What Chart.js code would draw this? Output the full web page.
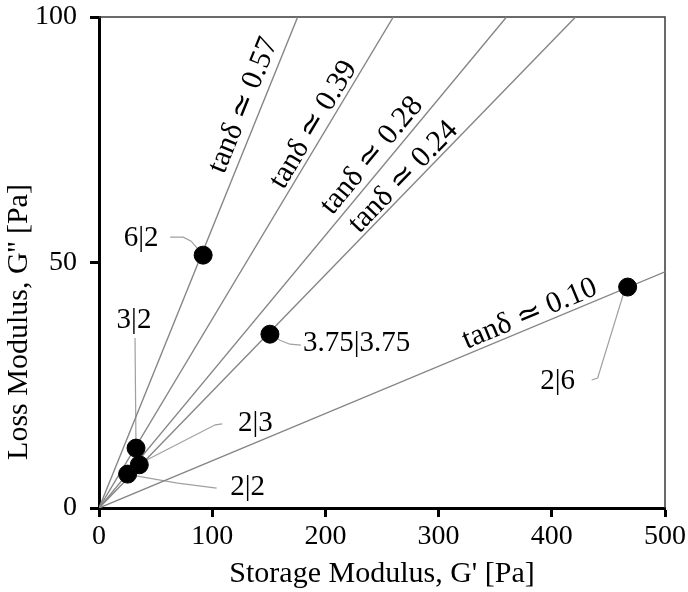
<!DOCTYPE html>
<html lang="en">
<head>
  <meta charset="UTF-8" />
  <title>Loss vs Storage Modulus</title>
  <script src="https://cdn.jsdelivr.net/npm/chart.js@4.4.1/dist/chart.umd.min.js"></script>
  <style>
    html, body { margin: 0; padding: 0; background: #fff; }
    #wrap { width: 688px; height: 592px; position: relative; }
  </style>
</head>
<body>
  <div id="wrap"><canvas id="modulusChart"></canvas></div>
  <script>
    // samples (G' and G'')
    const sampleNames = ["6|2", "3.75|3.75", "2|6", "3|2", "2|3", "2|2"];
    const storageModulus = [92, 151, 467, 32.7, 35.6, 25.3];
    const lossModulus = [51.5, 35.4, 45.0, 12.2, 8.8, 6.9];

    // tan delta guide lines, from origin to where they leave the plot
    const tanDeltaNames = ["tanδ ≃ 0.57", "tanδ ≃ 0.39", "tanδ ≃ 0.28", "tanδ ≃ 0.24", "tanδ ≃ 0.10"];
    const tanDeltaEndX = [175.5, 260, 360, 421, 500];
    const tanDeltaEndY = [100, 100, 100, 100, 48.1];

    const xTicks = [0, 100, 200, 300, 400, 500];
    const yTicks = [0, 50, 100];

    const serif = "'Liberation Serif', 'Times New Roman', serif";

    // where the rotated tan delta labels sit: fraction along the line, px off the line
    const tanLabelAt = [0.807, 0.767, 0.698, 0.657, 0.77];
    const tanLabelOff = [17, 13, 15, 12, 13];

    // sample label placement, px relative to the dot
    const sampleLabelPos = [
      { text: [-62, -17], align: "center", leader: [[-33, -18], [-20, -18], [-12, -14], [0, 0]] },
      { text: [33, 9], align: "left", leader: [[0, 0], [10, 6], [20, 10], [31, 11]] },
      { text: [-70, 94], align: "center", leader: [[-36, 93], [-30, 91], [-3, 3]] },
      { text: [-2, -128], align: "center", leader: [[-1, -110], [0, 0]] },
      { text: [116, -41], align: "center", leader: [[83, -41], [76, -40], [2, -2]] },
      { text: [120, 13], align: "center", leader: [[89, 14], [50, 9], [4, 1]] },
    ];

    const lineSets = tanDeltaNames.map((name, i) => ({
      type: "line",
      label: name,
      data: [{ x: 0, y: 0 }, { x: tanDeltaEndX[i], y: tanDeltaEndY[i] }],
      borderColor: "#858585",
      borderWidth: 1.4,
      pointRadius: 0,
      fill: false,
      order: 2,
    }));

    const pointSet = {
      type: "scatter",
      label: "samples",
      data: storageModulus.map((v, i) => ({ x: v, y: lossModulus[i] })),
      backgroundColor: "#000",
      borderColor: "#000",
      pointRadius: 9,
      order: 1,
    };

    const decorPlugin = {
      id: "decor",
      beforeDatasetsDraw(chart) {
        const ctx = chart.ctx;
        const a = chart.chartArea;
        ctx.save();
        // thin frame on top and right
        ctx.strokeStyle = "#3a3a3a";
        ctx.lineWidth = 1.5;
        ctx.beginPath();
        ctx.moveTo(a.left, a.top);
        ctx.lineTo(a.right, a.top);
        ctx.lineTo(a.right, a.bottom);
        ctx.stroke();
        // leaders from labels to dots
        const meta = chart.getDatasetMeta(chart.data.datasets.length - 1);
        ctx.strokeStyle = "#a0a0a0";
        ctx.lineWidth = 1.2;
        sampleLabelPos.forEach((p, i) => {
          const el = meta.data[i];
          ctx.beginPath();
          p.leader.forEach((q, k) => {
            if (k === 0) ctx.moveTo(el.x + q[0], el.y + q[1]);
            else ctx.lineTo(el.x + q[0], el.y + q[1]);
          });
          ctx.stroke();
        });
        ctx.restore();
      },
      afterDatasetsDraw(chart) {
        const ctx = chart.ctx;
        const xs = chart.scales.x, ys = chart.scales.y;
        ctx.save();
        ctx.fillStyle = "#000";
        // rotated tan delta labels
        ctx.font = "30px " + serif;
        ctx.textAlign = "center";
        ctx.textBaseline = "middle";
        tanDeltaNames.forEach((name, i) => {
          const x0 = xs.getPixelForValue(0), y0 = ys.getPixelForValue(0);
          const x1 = xs.getPixelForValue(tanDeltaEndX[i]), y1 = ys.getPixelForValue(tanDeltaEndY[i]);
          const dx = x1 - x0, dy = y1 - y0, len = Math.hypot(dx, dy);
          const fx = x0 + dx * tanLabelAt[i], fy = y0 + dy * tanLabelAt[i];
          const cx = fx + (dy / len) * tanLabelOff[i], cy = fy - (dx / len) * tanLabelOff[i];
          ctx.save();
          ctx.translate(cx, cy);
          ctx.rotate(Math.atan2(dy, dx));
          ctx.fillText(name, 0, 0);
          ctx.restore();
        });
        // sample labels
        const meta = chart.getDatasetMeta(chart.data.datasets.length - 1);
        ctx.font = "29px " + serif;
        sampleLabelPos.forEach((p, i) => {
          const el = meta.data[i];
          ctx.textAlign = p.align;
          ctx.fillText(sampleNames[i], el.x + p.text[0], el.y + p.text[1]);
        });
        // axis titles
        const a = chart.chartArea;
        ctx.font = "30px " + serif;
        ctx.textAlign = "center";
        ctx.textBaseline = "alphabetic";
        ctx.fillText("Storage Modulus, G' [Pa]", (a.left + a.right) / 2, 582);
        ctx.save();
        ctx.translate(27, 322);
        ctx.rotate(-Math.PI / 2);
        ctx.fillText("Loss Modulus, G'' [Pa]", 0, 0);
        ctx.restore();
        ctx.restore();
      },
    };

    new Chart(document.getElementById("modulusChart"), {
      data: { datasets: [...lineSets, pointSet] },
      options: {
        responsive: true,
        maintainAspectRatio: false,
        animation: false,
        layout: { padding: { top: 17, right: 23, left: 0, bottom: 0 } },
        plugins: { legend: { display: false }, tooltip: { enabled: false } },
        scales: {
          x: {
            type: "linear",
            min: 0,
            max: 500,
            afterBuildTicks: (s) => { s.ticks = xTicks.map((v) => ({ value: v })); },
            afterFit: (s) => { s.height = 84; s.paddingLeft = 0; s.paddingRight = 0; },
            border: { display: true, width: 3, color: "#000" },
            grid: { display: true, drawOnChartArea: false, drawTicks: true, tickLength: 9, tickWidth: 3, tickColor: "#000" },
            ticks: { color: "#000", padding: 3, maxRotation: 0, font: { family: serif, size: 28 } },
          },
          y: {
            type: "linear",
            min: 0,
            max: 100,
            afterBuildTicks: (s) => { s.ticks = yTicks.map((v) => ({ value: v })); },
            afterFit: (s) => { s.width = 99; s.paddingTop = 0; s.paddingBottom = 0; },
            border: { display: true, width: 3, color: "#000" },
            grid: { display: true, drawOnChartArea: false, drawTicks: true, tickLength: 9, tickWidth: 3, tickColor: "#000" },
            ticks: { color: "#000", padding: 13, font: { family: serif, size: 28 } },
          },
        },
      },
      plugins: [decorPlugin],
    });
  </script>
</body>
</html>
